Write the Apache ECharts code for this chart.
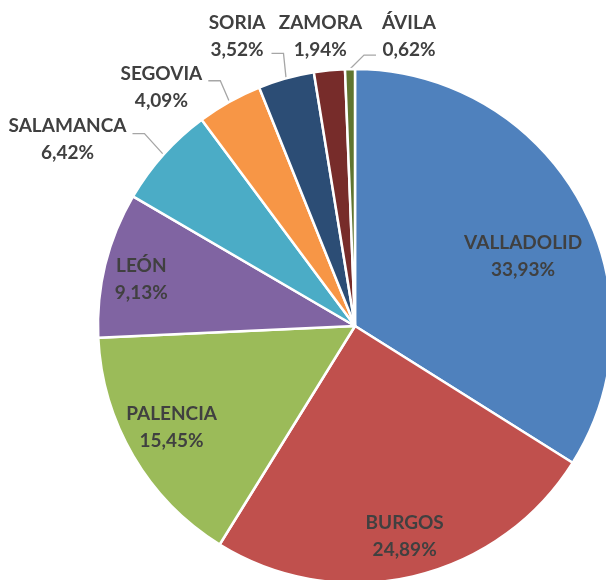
<!DOCTYPE html>
<html>
<head>
<meta charset="utf-8">
<script src="https://cdn.jsdelivr.net/npm/echarts@6/dist/echarts.min.js"></script>
<style>
html, body { margin: 0; padding: 0; background: #fff; }
#chart { width: 606px; height: 580px; }
</style>
</head>
<body>
<div id="chart"></div>
<script>
const provincias = ['VALLADOLID', 'BURGOS', 'PALENCIA', 'LEÓN', 'SALAMANCA', 'SEGOVIA', 'SORIA', 'ZAMORA', 'ÁVILA'];
const porcentajes = [33.93, 24.89, 15.45, 9.13, 6.42, 4.09, 3.52, 1.94, 0.62];
const colores = ['#4F81BD', '#C0504D', '#9BBB59', '#8064A2', '#4BACC6', '#F79646', '#2C4D75', '#772C2A', '#5F7530'];

// etiquetas dentro del sector o fuera con línea guía
const dentro = [true, true, true, true, false, false, false, false, false];
// desplazamiento de la etiqueta: dentro -> desde su sitio por defecto, fuera -> desde el borde del sector
const desplazamiento = [[53, -6], [20, 82], [-70, 35], [-86, -15], [-96, -15], [-68, -14], [-49, -42], [-9, -34], [59, -33]];
// línea guía: lado de la etiqueta (1 derecha, -1 izquierda, 0 sin línea) y altura respecto al centro
const lineaLado = [0, 0, 0, 0, 1, 1, 1, 0, -1];
const lineaDy = [0, 0, 0, 0, -6, -7, 17, 0, 19];

const chart = echarts.init(document.getElementById('chart'));

const option = {
    animation: false,
    series: [
        {
            type: 'pie',
            center: [355, 326],
            radius: 257,
            startAngle: 90,
            clockwise: true,
            avoidLabelOverlap: false,
            itemStyle: {
                borderColor: '#fff',
                borderWidth: 2.5
            },
            label: {
                show: true,
                position: 'outside',
                formatter: p => p.name + '\n' + p.value.toFixed(2).replace('.', ',') + '%',
                fontFamily: 'Lato',
                fontWeight: 'bold',
                fontSize: 19,
                lineHeight: 27,
                color: '#404040'
            },
            labelLine: {
                show: true,
                length: 10,
                length2: 10,
                lineStyle: { color: '#A6A6A6', width: 1.3 }
            },
            emphasis: { disabled: true },
            labelLayout: function (p) {
                const i = p.dataIndex;
                const r = p.labelRect;
                const off = desplazamiento[i];
                if (dentro[i] || !p.labelLinePoints) {
                    return {
                        x: r.x + r.width / 2 + off[0],
                        y: r.y + r.height / 2 + off[1],
                        align: 'center',
                        verticalAlign: 'middle'
                    };
                }
                const a = p.labelLinePoints[0];
                const x = a[0] + off[0];
                const y = a[1] + off[1];
                const res = { x: x, y: y, align: 'center', verticalAlign: 'middle' };
                const lado = lineaLado[i];
                if (lado === 0) {
                    res.labelLinePoints = [a, a, a];
                } else {
                    const ly = y + lineaDy[i];
                    const fin = [x + lado * (r.width / 2 + 6), ly];
                    const codo = [fin[0] + lado * 12, ly];
                    res.labelLinePoints = [a, codo, fin];
                }
                return res;
            },
            data: provincias.map((n, i) => ({
                name: n,
                value: porcentajes[i],
                itemStyle: { color: colores[i] },
                label: { position: dentro[i] ? 'inside' : 'outside' }
            }))
        }
    ]
};

chart.setOption(option);
</script>
</body>
</html>
